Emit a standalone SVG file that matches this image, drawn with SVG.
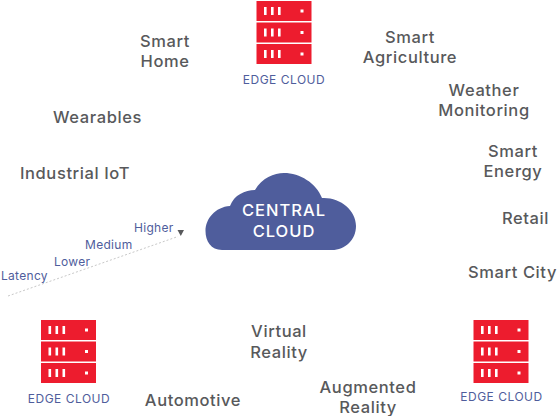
<svg xmlns="http://www.w3.org/2000/svg" width="558" height="416" viewBox="0 0 558 416">
<style>
text{font-family:Inter,"Open Sans","Liberation Sans",sans-serif}
.a{font-size:16.500px;font-weight:500;fill:#58595b;text-anchor:middle;letter-spacing:.6px}
.e{font-size:12px;fill:#4f5d9c;text-anchor:middle;letter-spacing:.5px}
.l{font-size:12px;fill:#4f5d9c;letter-spacing:.3px}
.c{font-size:16.500px;font-weight:500;fill:#fff;text-anchor:middle;letter-spacing:1px}
.w{fill:#fff}
</style>
<defs>
<g id="srv"><rect width="55" height="20" fill="#ed1c2e"/>
<rect x="7.500" y="6" width="2.600" height="8" class="w"/><rect x="14.500" y="6" width="2.600" height="8" class="w"/><rect x="21.500" y="6" width="2.600" height="8" class="w"/><rect x="44" y="8.500" width="3" height="3" class="w"/></g>
<g id="stack"><use href="#srv"/><use href="#srv" y="21.500"/><use href="#srv" y="43"/></g>
</defs>
<g id="connectors"><path d="M8 296 L178 236.500" fill="none" stroke="#c8c8c8" stroke-width="1" stroke-dasharray="2 2"/><path d="M177.500 230 h6.500 l-3.200 6z" fill="#58595b"/></g>
<g id="edge-top"><use href="#stack" x="256.500" y="1"/><text class="e" x="284" y="83.500">EDGE CLOUD</text></g>
<g id="edge-left"><use href="#stack" x="41" y="320"/><text class="e" x="69" y="402.500">EDGE CLOUD</text></g>
<g id="edge-right"><use href="#stack" x="473.500" y="320"/><text class="e" x="501.500" y="400.500">EDGE CLOUD</text></g>
<g id="central"><path d="M222 250 C211 250 205.500 241 205.500 231 C205.500 219 215 207 230 206 C234 195 245 190 255 190 C262 178 274 173 284 173 C300 173 316 183 322 198 C340 197 356 210 356 226 C356 240 345 250 332 250Z" fill="#4f5d9c"/>
<text class="c" x="284" y="215.500">CENTRAL</text><text class="c" x="284" y="236.500">CLOUD</text></g>
<g id="smart-home"><text class="a" x="165" y="47">Smart</text><text class="a" x="165" y="67">Home</text></g>
<g id="smart-agri"><text class="a" x="410" y="43">Smart</text><text class="a" x="410" y="63">Agriculture</text></g>
<g id="weather"><text class="a" x="484" y="96">Weather</text><text class="a" x="484" y="116">Monitoring</text></g>
<g id="wearables"><text class="a" x="97.500" y="123">Wearables</text></g>
<g id="iiot"><text class="a" x="75" y="179">Industrial IoT</text></g>
<g id="smart-energy"><text class="a" x="513" y="157">Smart</text><text class="a" x="513" y="177">Energy</text></g>
<g id="retail"><text class="a" x="525.500" y="224">Retail</text></g>
<g id="smart-city"><text class="a" x="512.500" y="278">Smart City</text></g>
<g id="vr"><text class="a" x="279" y="337">Virtual</text><text class="a" x="279" y="358">Reality</text></g>
<g id="automotive"><text class="a" x="193" y="406">Automotive</text></g>
<g id="ar"><text class="a" x="368" y="393">Augmented</text><text class="a" x="368" y="413">Reality</text></g>
<g id="latency"><text class="l" x="134" y="232">Higher</text><text class="l" x="85" y="249">Medium</text><text class="l" x="54" y="266">Lower</text><text class="l" x="1" y="280">Latency</text></g>
</svg>
